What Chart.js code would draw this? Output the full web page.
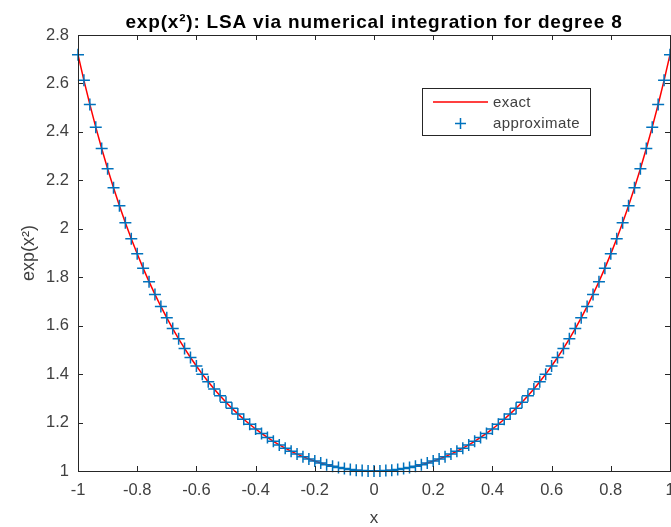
<!DOCTYPE html>
<html>
<head>
<meta charset="utf-8">
<script src="https://cdn.jsdelivr.net/npm/chart.js@4"></script>
<style>
  html, body { margin: 0; padding: 0; overflow: hidden; background: #fff; }
  #wrap { width: 720px; height: 527px; }
</style>
</head>
<body>
<div id="wrap"><canvas id="lsaChart" width="720" height="527"></canvas></div>
<script>
// ===== DATA =====
const xValues = [
    -1, -0.98, -0.96, -0.94, -0.92, -0.9, -0.88, -0.86, -0.84, -0.82,
    -0.8, -0.78, -0.76, -0.74, -0.72, -0.7, -0.68, -0.66, -0.64, -0.62,
    -0.6, -0.58, -0.56, -0.54, -0.52, -0.5, -0.48, -0.46, -0.44, -0.42,
    -0.4, -0.38, -0.36, -0.34, -0.32, -0.3, -0.28, -0.26, -0.24, -0.22,
    -0.2, -0.18, -0.16, -0.14, -0.12, -0.1, -0.08, -0.06, -0.04, -0.02,
    0,
    0.02, 0.04, 0.06, 0.08, 0.1, 0.12, 0.14, 0.16, 0.18, 0.2,
    0.22, 0.24, 0.26, 0.28, 0.3, 0.32, 0.34, 0.36, 0.38, 0.4,
    0.42, 0.44, 0.46, 0.48, 0.5, 0.52, 0.54, 0.56, 0.58, 0.6,
    0.62, 0.64, 0.66, 0.68, 0.7, 0.72, 0.74, 0.76, 0.78, 0.8,
    0.82, 0.84, 0.86, 0.88, 0.9, 0.92, 0.94, 0.96, 0.98, 1
];

const exactValues = [
    2.7183, 2.6128, 2.5133, 2.4196, 2.3312, 2.2479, 2.1693, 2.0951, 2.0250, 1.9589,
    1.8965, 1.8375, 1.7818, 1.7291, 1.6793, 1.6323, 1.5879, 1.5459, 1.5062, 1.4687,
    1.4333, 1.3999, 1.3684, 1.3386, 1.3105, 1.2840, 1.2591, 1.2357, 1.2136, 1.1929,
    1.1735, 1.1553, 1.1384, 1.1225, 1.1078, 1.0942, 1.0816, 1.0699, 1.0593, 1.0496,
    1.0408, 1.0329, 1.0259, 1.0198, 1.0145, 1.0101, 1.0064, 1.0036, 1.0016, 1.0004,
    1.0000,
    1.0004, 1.0016, 1.0036, 1.0064, 1.0101, 1.0145, 1.0198, 1.0259, 1.0329, 1.0408,
    1.0496, 1.0593, 1.0699, 1.0816, 1.0942, 1.1078, 1.1225, 1.1384, 1.1553, 1.1735,
    1.1929, 1.2136, 1.2357, 1.2591, 1.2840, 1.3105, 1.3386, 1.3684, 1.3999, 1.4333,
    1.4687, 1.5062, 1.5459, 1.5879, 1.6323, 1.6793, 1.7291, 1.7818, 1.8375, 1.8965,
    1.9589, 2.0250, 2.0951, 2.1693, 2.2479, 2.3312, 2.4196, 2.5133, 2.6128, 2.7183
];

// approximation is indistinguishable from exact at this scale
const approxValues = exactValues.slice();

const xTicks = [-1, -0.8, -0.6, -0.4, -0.2, 0, 0.2, 0.4, 0.6, 0.8, 1];
const yTicks = [1, 1.2, 1.4, 1.6, 1.8, 2, 2.2, 2.4, 2.6, 2.8];

const titleText = "exp(x²): LSA via numerical integration for degree 8";
const legendLabels = ["exact", "approximate"];

const FONT = "'Liberation Sans', Arial, sans-serif";
const AXIS_COLOR = "#262626";
const LABEL_COLOR = "#404040";
const RED = "#ff0000";
const BLUE = "#0072bd";

// ===== MATLAB-LIKE FRAME, TICKS, TITLES, LEGEND =====
const matlabFrame = {
    id: "matlabFrame",
    afterDraw(chart) {
        const ctx = chart.ctx;
        const a = chart.chartArea;
        const xs = chart.scales.x;
        const ys = chart.scales.y;
        ctx.save();

        // box
        ctx.strokeStyle = AXIS_COLOR;
        ctx.lineWidth = 1;
        ctx.strokeRect(Math.round(a.left) + 0.5, Math.round(a.top) + 0.5,
            Math.round(a.right - a.left), Math.round(a.bottom - a.top));

        // inward ticks
        const tl = 5;
        ctx.beginPath();
        xTicks.forEach(v => {
            const px = Math.round(xs.getPixelForValue(v)) + 0.5;
            ctx.moveTo(px, a.bottom); ctx.lineTo(px, a.bottom - tl);
            ctx.moveTo(px, a.top); ctx.lineTo(px, a.top + tl);
        });
        yTicks.forEach(v => {
            const py = Math.round(ys.getPixelForValue(v)) + 0.5;
            ctx.moveTo(a.left, py); ctx.lineTo(a.left + tl, py);
            ctx.moveTo(a.right, py); ctx.lineTo(a.right - tl, py);
        });
        ctx.stroke();

        const cx = (a.left + a.right) / 2;

        // title, stretched to the reference width
        ctx.fillStyle = "#000";
        ctx.font = "bold 19px " + FONT;
        ctx.textAlign = "center";
        ctx.textBaseline = "alphabetic";
        const tw = ctx.measureText(titleText).width;
        ctx.letterSpacing = Math.max(0, (497 - tw) / titleText.length) + "px";
        ctx.fillText(titleText, cx, 28);
        ctx.letterSpacing = "0px";

        // x label
        ctx.fillStyle = LABEL_COLOR;
        ctx.font = "17px " + FONT;
        ctx.textBaseline = "middle";
        ctx.fillText("x", cx, 518);

        // y label
        ctx.save();
        ctx.translate(29, (a.top + a.bottom) / 2);
        ctx.rotate(-Math.PI / 2);
        ctx.font = "18px " + FONT;
        ctx.fillText("exp(x²)", 0, 0);
        ctx.restore();

        // legend
        const lx = 422, ly = 88, lw = 168, lh = 47;
        ctx.fillStyle = "#fff";
        ctx.fillRect(lx, ly, lw, lh);
        ctx.strokeStyle = AXIS_COLOR;
        ctx.strokeRect(lx + 0.5, ly + 0.5, lw, lh);

        ctx.strokeStyle = RED;
        ctx.lineWidth = 1.5;
        ctx.beginPath();
        ctx.moveTo(433, 102); ctx.lineTo(488, 102);
        ctx.stroke();

        ctx.strokeStyle = BLUE;
        ctx.lineWidth = 1.5;
        ctx.beginPath();
        ctx.moveTo(455, 123.5); ctx.lineTo(466, 123.5);
        ctx.moveTo(460.5, 118); ctx.lineTo(460.5, 129);
        ctx.stroke();

        ctx.fillStyle = LABEL_COLOR;
        ctx.font = "15px " + FONT;
        ctx.letterSpacing = "0.4px";
        ctx.textAlign = "left";
        ctx.fillText(legendLabels[0], 493, 103);
        ctx.fillText(legendLabels[1], 493, 124);
        ctx.letterSpacing = "0px";

        ctx.restore();
    }
};

// ===== GRAFIK =====
const lsaCtx = document.getElementById("lsaChart");

new Chart(lsaCtx, {
    type: "scatter",
    data: {
        datasets: [
            {
                label: legendLabels[1],
                data: xValues.map((x, i) => ({ x: x, y: approxValues[i] })),
                showLine: false,
                pointStyle: "cross",
                pointRadius: 6,
                pointBorderWidth: 1.5,
                borderColor: BLUE,
                backgroundColor: BLUE,
                clip: false,
                order: 0
            },
            {
                label: legendLabels[0],
                data: xValues.map((x, i) => ({ x: x, y: exactValues[i] })),
                showLine: true,
                borderColor: RED,
                borderWidth: 1.5,
                pointRadius: 0,
                tension: 0,
                order: 1
            }
        ]
    },
    options: {
        responsive: false,
        animation: false,
        layout: { padding: { top: 35, right: 50, left: 0, bottom: 0 } },
        plugins: {
            legend: { display: false },
            tooltip: { enabled: false }
        },
        scales: {
            x: {
                type: "linear",
                min: -1,
                max: 1,
                grid: { display: false, drawTicks: false },
                border: { display: false },
                afterFit: s => { s.height = 56; },
                afterBuildTicks: s => { s.ticks = xTicks.map(v => ({ value: v })); },
                ticks: {
                    padding: 10,
                    color: LABEL_COLOR,
                    font: { family: FONT, size: 16.5 },
                    maxRotation: 0,
                    callback: v => String(Math.round(v * 10) / 10)
                }
            },
            y: {
                min: 1,
                max: 2.8,
                grid: { display: false, drawTicks: false },
                border: { display: false },
                afterFit: s => { s.width = 78; },
                afterBuildTicks: s => { s.ticks = yTicks.map(v => ({ value: v })); },
                ticks: {
                    padding: 9,
                    color: LABEL_COLOR,
                    font: { family: FONT, size: 16.5 },
                    callback: v => String(Math.round(v * 10) / 10)
                }
            }
        }
    },
    plugins: [matlabFrame]
});
</script>
</body>
</html>
